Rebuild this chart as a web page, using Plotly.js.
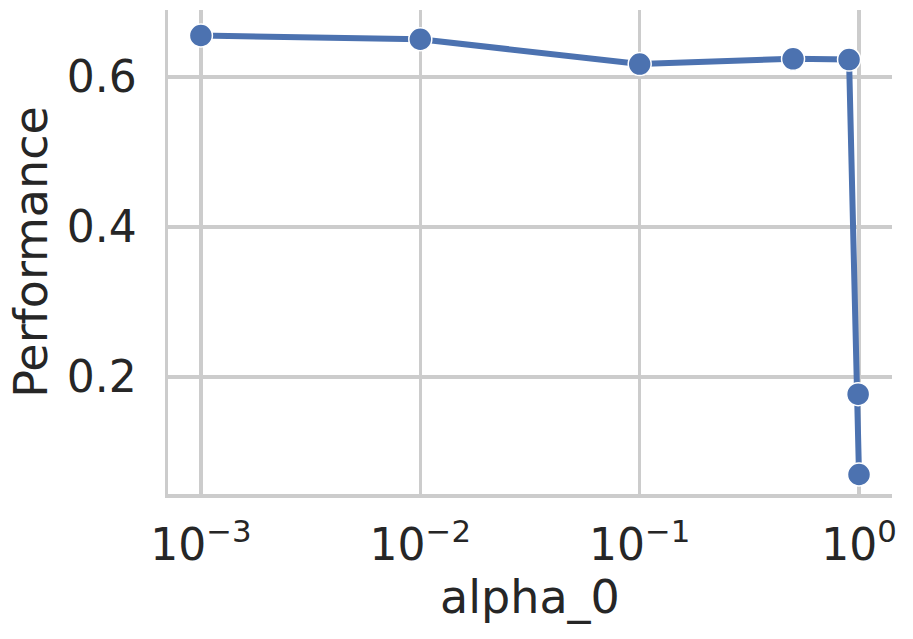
<!DOCTYPE html>
<html>
<head>
<meta charset="utf-8">
<script src="https://cdn.plot.ly/plotly-3.0.1.min.js"></script>
<style>html,body{margin:0;padding:0;background:#fff}#chart{width:913px;height:639px}</style>
</head>
<body>
<div id="chart"></div>
<script>
const alpha0 = [0.001, 0.01, 0.1, 0.5, 0.9, 0.99, 0.999];
const performance = [0.655, 0.650, 0.617, 0.624, 0.623, 0.177, 0.070];
const xTickVals = [0.001, 0.01, 0.1, 1];
const xTickText = ['10<sup>\u22123</sup>', '10<sup>\u22122</sup>', '10<sup>\u22121</sup>', '10<sup>0</sup>'];
const yTickVals = [0.2, 0.4, 0.6];
const yTickText = ['0.2', '0.4', '0.6'];

const trace = {
  x: alpha0, y: performance, type: 'scatter', mode: 'lines+markers',
  line: {color: '#4c72b0', width: 6},
  marker: {color: '#4c72b0', size: 23, line: {color: '#ffffff', width: 1.5}},
  cliponaxis: false, showlegend: false
};
const layout = {
  width: 913, height: 639,
  margin: {l: 168, r: 21, t: 10, b: 145},
  paper_bgcolor: '#ffffff', plot_bgcolor: '#ffffff',
  font: {family: 'DejaVu Sans', color: '#262626', size: 44},
  xaxis: {
    type: 'log', range: [-3.15, 0.15],
    tickmode: 'array', tickvals: xTickVals, ticktext: xTickText,
    showline: true, linecolor: '#cccccc', linewidth: 3.5,
    showgrid: true, gridcolor: '#cccccc', gridwidth: 3.5, zeroline: false,
    ticks: '', ticklabelstandoff: 10,
    tickfont: {size: 44, color: '#262626'},
    title: {text: 'alpha_0', font: {size: 46, color: '#262626'}, standoff: 8}
  },
  yaxis: {
    range: [0.044, 0.689], automargin: true,
    tickmode: 'array', tickvals: yTickVals, ticktext: yTickText,
    showline: true, linecolor: '#cccccc', linewidth: 3.5,
    showgrid: true, gridcolor: '#cccccc', gridwidth: 3.5, zeroline: false,
    ticks: '', ticklabelstandoff: 19,
    tickfont: {size: 44, color: '#262626'},
    title: {text: 'Performance', font: {size: 46, color: '#262626'}, standoff: 5}
  }
};
Plotly.newPlot('chart', [trace], layout, {displayModeBar: false, staticPlot: true});
</script>
</body>
</html>
